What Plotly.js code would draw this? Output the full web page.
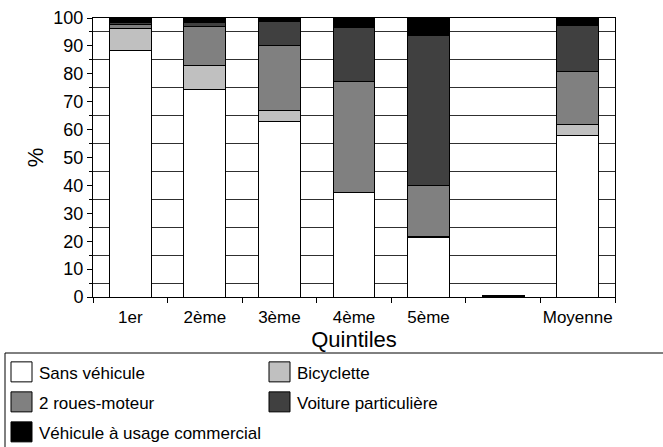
<!DOCTYPE html>
<html>
<head>
<meta charset="utf-8">
<script src="https://cdn.plot.ly/plotly-3.0.1.min.js"></script>
<style>html,body{margin:0;padding:0;background:#fff;}#chart{width:663px;height:447px;}</style>
</head>
<body>
<div id="chart"></div>
<script>
const categories = ['1er', '2ème', '3ème', '4ème', '5ème', ' ', 'Moyenne'];
const seriesNames = ['Sans véhicule', 'Bicyclette', '2 roues-moteur', 'Voiture particulière', 'Véhicule à usage commercial'];
const sansVehicule = [88.5, 74.5, 63.0, 37.3, 21.4, 0, 57.8];
const bicyclette   = [7.7, 8.3, 3.8, 0.3, 0.2, 0, 4.2];
const deuxRoues    = [1.6, 14.2, 23.2, 39.6, 18.2, 0, 18.9];
const voiture      = [0.6, 1.5, 8.7, 19.3, 53.9, 0, 16.3];
const vuc          = [1.6, 1.5, 1.3, 3.5, 6.3, 0.6, 2.8];
const yTickVals = [0, 10, 20, 30, 40, 50, 60, 70, 80, 90, 100];

const seriesValues = [sansVehicule, bicyclette, deuxRoues, voiture, vuc];
const fills = ['#ffffff', '#c0c0c0', '#808080', '#404040', '#000000'];

const traces = seriesValues.map((vals, i) => ({
  type: 'bar',
  name: seriesNames[i],
  x: categories,
  y: vals,
  marker: {color: fills[i], line: {color: '#000000', width: 1}},
  hoverinfo: 'skip'
}));

const W = 663, H = 447;
const M = {l: 93, r: 48, t: 18, b: 150, autoexpand: false};
const pw = W - M.l - M.r, ph = H - M.t - M.b;
// legend frame in paper coords
const fx0 = (5 - M.l) / pw, fx1 = (672 - M.l) / pw;
const fy0 = (M.t + ph - 460) / ph, fy1 = (M.t + ph - 353) / ph;

// legend layout (page pixels)
const LEG_TEXT_X = 39, LEG_ROW1_Y = 373, LEG_ROW_STEP = 30, LEG_COL_STEP = 258;

const layout = {
  width: W, height: H,
  margin: M,
  paper_bgcolor: '#ffffff',
  plot_bgcolor: '#ffffff',
  barmode: 'stack',
  bargap: 0.44,
  font: {family: 'Liberation Sans, Arial, sans-serif', color: '#000000', size: 15},
  showlegend: true,
  legend: {
    orientation: 'h',
    xref: 'paper', yref: 'paper',
    x: (0 - M.l) / pw, y: -0.2,
    xanchor: 'left', yanchor: 'top',
    traceorder: 'normal',
    entrywidth: 218, entrywidthmode: 'pixels',
    font: {size: 17, color: '#000000'},
    bgcolor: 'rgba(0,0,0,0)',
    borderwidth: 0,
    itemclick: false
  },
  shapes: [{
    type: 'rect', xref: 'paper', yref: 'paper',
    x0: fx0, x1: fx1, y0: fy0, y1: fy1,
    line: {color: '#000000', width: 1}, fillcolor: 'rgba(0,0,0,0)', layer: 'above'
  }],
  xaxis: {
    type: 'category',
    categoryorder: 'array', categoryarray: categories,
    tickson: 'boundaries',
    tickangle: 0,
    automargin: false,
    ticks: 'outside', ticklen: 5, tickcolor: '#000000',
    showline: true, linecolor: '#000000', linewidth: 1, mirror: true,
    showgrid: false, zeroline: false,
    tickfont: {size: 17},
    ticklabelstandoff: 5,
    title: {text: 'Quintiles', font: {size: 22}, standoff: 3}
  },
  yaxis: {
    range: [0, 100],
    automargin: false,
    tickvals: yTickVals,
    ticktext: yTickVals.map(String),
    ticks: 'outside', ticklen: 5, tickcolor: '#000000',
    showline: true, linecolor: '#000000', linewidth: 1, mirror: true,
    showgrid: false, zeroline: false,
    tickfont: {size: 18},
    minor: {tick0: 5, dtick: 10, showgrid: true, gridcolor: '#303030', gridwidth: 1, ticks: 'outside', ticklen: 3, tickcolor: '#000000'},
    title: {text: '%', font: {size: 22}, standoff: 3}
  }
};

function parseTranslate(t) {
  const m = /translate\(\s*([-\d.e]+)[ ,]*([-\d.e]*)/.exec(t || '');
  return m ? [parseFloat(m[1]), parseFloat(m[2] || 0)] : [0, 0];
}

Plotly.newPlot('chart', traces, layout, {staticPlot: true, displayModeBar: false}).then(gd => {
  const sb = document.querySelector('.legend .scrollbox');
  if (sb) sb.removeAttribute('clip-path');
  const items = Array.from(document.querySelectorAll('.legend .traces'));
  if (!items.length) return;
  // bigger swatches, closer to text
  items.forEach(it => {
    it.querySelectorAll('.legendpoints path').forEach(p => {
      p.setAttribute('d', 'M13,10H-8V-10H13Z');
    });
  });
  const base = parseTranslate(items[0].getAttribute('transform'));
  const txt = items[0].querySelector('text.legendtext');
  const r = txt.getBoundingClientRect();
  const dx = LEG_TEXT_X - r.left;
  const dy = LEG_ROW1_Y - (r.top + r.height / 2);
  items.forEach((it, i) => {
    const col = i % 2, row = Math.floor(i / 2);
    it.setAttribute('transform', 'translate(' + (base[0] + dx + col * LEG_COL_STEP) + ',' + (base[1] + dy + row * LEG_ROW_STEP) + ')');
  });
});
</script>
</body>
</html>
